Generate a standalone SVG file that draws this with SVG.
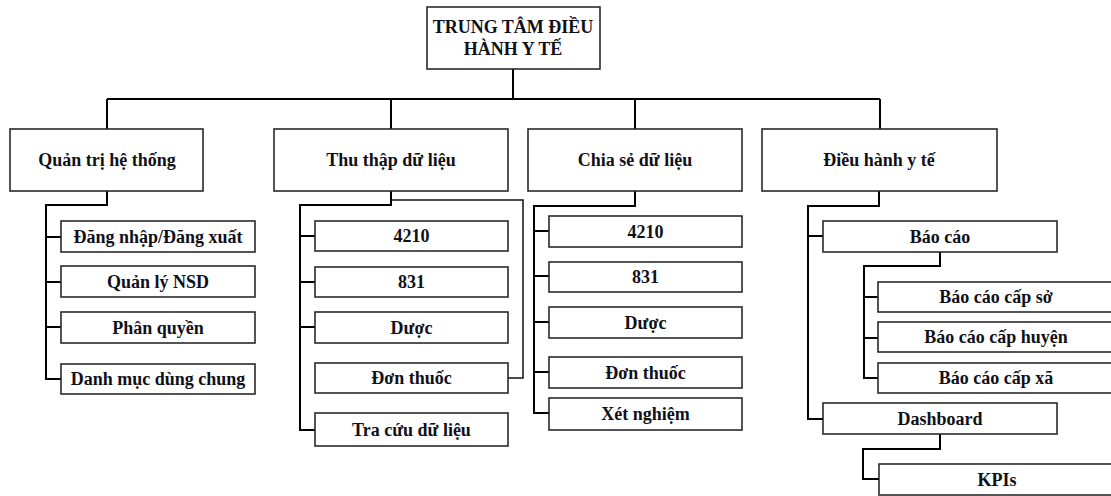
<svg xmlns="http://www.w3.org/2000/svg" width="1111" height="496" viewBox="0 0 1111 496">
  <style>
    .box { fill: #fff; stroke: #2a2a2a; stroke-width: 1.6; }
    .lbl { font-family: "Liberation Serif", "Times New Roman", serif; font-weight: bold; font-size: 18px; fill: #101018; text-anchor: middle; }
    .ln { fill: none; stroke: #000; stroke-width: 2; }
    .thin { fill: none; stroke: #111; stroke-width: 1.5; }
  </style>
  <rect width="1111" height="496" fill="#fff"/>

  <!-- connectors -->
  <g id="connectors">
    <!-- root to first level -->
    <path class="ln" d="M513,69 V99 M107,99 H880 M107,99 V129 M391,99 V129 M635,99 V129 M880,99 V129"/>
    <!-- Quản trị hệ thống -->
    <path class="ln" d="M107,191 V205 H46 V379 H61 M46,237 H61 M46,282 H61 M46,327 H61"/>
    <!-- Thu thập dữ liệu -->
    <path class="ln" d="M391,191 V205 H300 V430 H315 M300,236 H315 M300,282 H315 M300,327 H315"/>
    <path class="thin" d="M391,200 H523 V378 H508"/>
    <!-- Chia sẻ dữ liệu -->
    <path class="ln" d="M635,191 V206 H534 V413 H549 M534,231 H549 M534,276 H549 M534,322 H549 M534,372 H549"/>
    <!-- Điều hành y tế -->
    <path class="ln" d="M879,191 V206 H808 V419 H823 M808,236 H823"/>
    <path class="ln" d="M940,252 V266 H864 V378 H878 M864,297 H878 M864,338 H878"/>
    <path class="ln" d="M940,434 V449 H863 V479 H879"/>
  </g>

  <!-- root -->
  <g id="root">
    <rect class="box" x="427" y="7" width="173" height="62"/>
    <text class="lbl" x="513" y="33">TRUNG TÂM ĐIỀU</text>
    <text class="lbl" x="513" y="55">HÀNH Y TẾ</text>
  </g>

  <!-- first level -->
  <g id="quan-tri">
    <rect class="box" x="10" y="129" width="193" height="62"/>
    <text class="lbl" x="107" y="166">Quản trị hệ thống</text>
  </g>
  <g id="thu-thap">
    <rect class="box" x="274" y="129" width="234" height="62"/>
    <text class="lbl" x="391" y="166">Thu thập dữ liệu</text>
  </g>
  <g id="chia-se">
    <rect class="box" x="528" y="129" width="214" height="62"/>
    <text class="lbl" x="635" y="166">Chia sẻ dữ liệu</text>
  </g>
  <g id="dieu-hanh">
    <rect class="box" x="762" y="129" width="235" height="62"/>
    <text class="lbl" x="879" y="166">Điều hành y tế</text>
  </g>

  <!-- Quản trị hệ thống children -->
  <g id="qt-dang-nhap">
    <rect class="box" x="61" y="221" width="194" height="31"/>
    <text class="lbl" x="158" y="242.5">Đăng nhập/Đăng xuất</text>
  </g>
  <g id="qt-quan-ly-nsd">
    <rect class="box" x="61" y="266" width="194" height="31"/>
    <text class="lbl" x="158" y="287.5">Quản lý NSD</text>
  </g>
  <g id="qt-phan-quyen">
    <rect class="box" x="61" y="312" width="194" height="31"/>
    <text class="lbl" x="158" y="333.5">Phân quyền</text>
  </g>
  <g id="qt-danh-muc">
    <rect class="box" x="61" y="364" width="194" height="30"/>
    <text class="lbl" x="158" y="385">Danh mục dùng chung</text>
  </g>

  <!-- Thu thập dữ liệu children -->
  <g id="tt-4210">
    <rect class="box" x="315" y="221" width="193" height="30"/>
    <text class="lbl" x="411.5" y="242">4210</text>
  </g>
  <g id="tt-831">
    <rect class="box" x="315" y="267" width="193" height="30"/>
    <text class="lbl" x="411.5" y="288">831</text>
  </g>
  <g id="tt-duoc">
    <rect class="box" x="315" y="312" width="193" height="31"/>
    <text class="lbl" x="411.5" y="333.5">Dược</text>
  </g>
  <g id="tt-don-thuoc">
    <rect class="box" x="315" y="363" width="193" height="30"/>
    <text class="lbl" x="411.5" y="384">Đơn thuốc</text>
  </g>
  <g id="tt-tra-cuu">
    <rect class="box" x="315" y="413" width="193" height="33"/>
    <text class="lbl" x="411.5" y="435.5">Tra cứu dữ liệu</text>
  </g>

  <!-- Chia sẻ dữ liệu children -->
  <g id="cs-4210">
    <rect class="box" x="549" y="216" width="193" height="31"/>
    <text class="lbl" x="645.5" y="237.5">4210</text>
  </g>
  <g id="cs-831">
    <rect class="box" x="549" y="262" width="193" height="30"/>
    <text class="lbl" x="645.5" y="283">831</text>
  </g>
  <g id="cs-duoc">
    <rect class="box" x="549" y="307" width="193" height="31"/>
    <text class="lbl" x="645.5" y="328.5">Dược</text>
  </g>
  <g id="cs-don-thuoc">
    <rect class="box" x="549" y="357" width="193" height="31"/>
    <text class="lbl" x="645.5" y="378.5">Đơn thuốc</text>
  </g>
  <g id="cs-xet-nghiem">
    <rect class="box" x="549" y="398" width="193" height="32"/>
    <text class="lbl" x="645.5" y="420">Xét nghiệm</text>
  </g>

  <!-- Điều hành y tế children -->
  <g id="dh-bao-cao">
    <rect class="box" x="823" y="221" width="234" height="31"/>
    <text class="lbl" x="940" y="242.5">Báo cáo</text>
  </g>
  <g id="dh-bc-so">
    <rect class="box" x="878" y="282" width="236" height="30"/>
    <text class="lbl" x="996" y="303">Báo cáo cấp sở</text>
  </g>
  <g id="dh-bc-huyen">
    <rect class="box" x="878" y="322" width="236" height="30"/>
    <text class="lbl" x="996" y="343">Báo cáo cấp huyện</text>
  </g>
  <g id="dh-bc-xa">
    <rect class="box" x="878" y="363" width="236" height="30"/>
    <text class="lbl" x="996" y="384">Báo cáo cấp xã</text>
  </g>
  <g id="dh-dashboard">
    <rect class="box" x="823" y="403" width="234" height="31"/>
    <text class="lbl" x="940" y="424.5">Dashboard</text>
  </g>
  <g id="dh-kpis">
    <rect class="box" x="879" y="464" width="236" height="31"/>
    <text class="lbl" x="997" y="485.5">KPIs</text>
  </g>
</svg>
